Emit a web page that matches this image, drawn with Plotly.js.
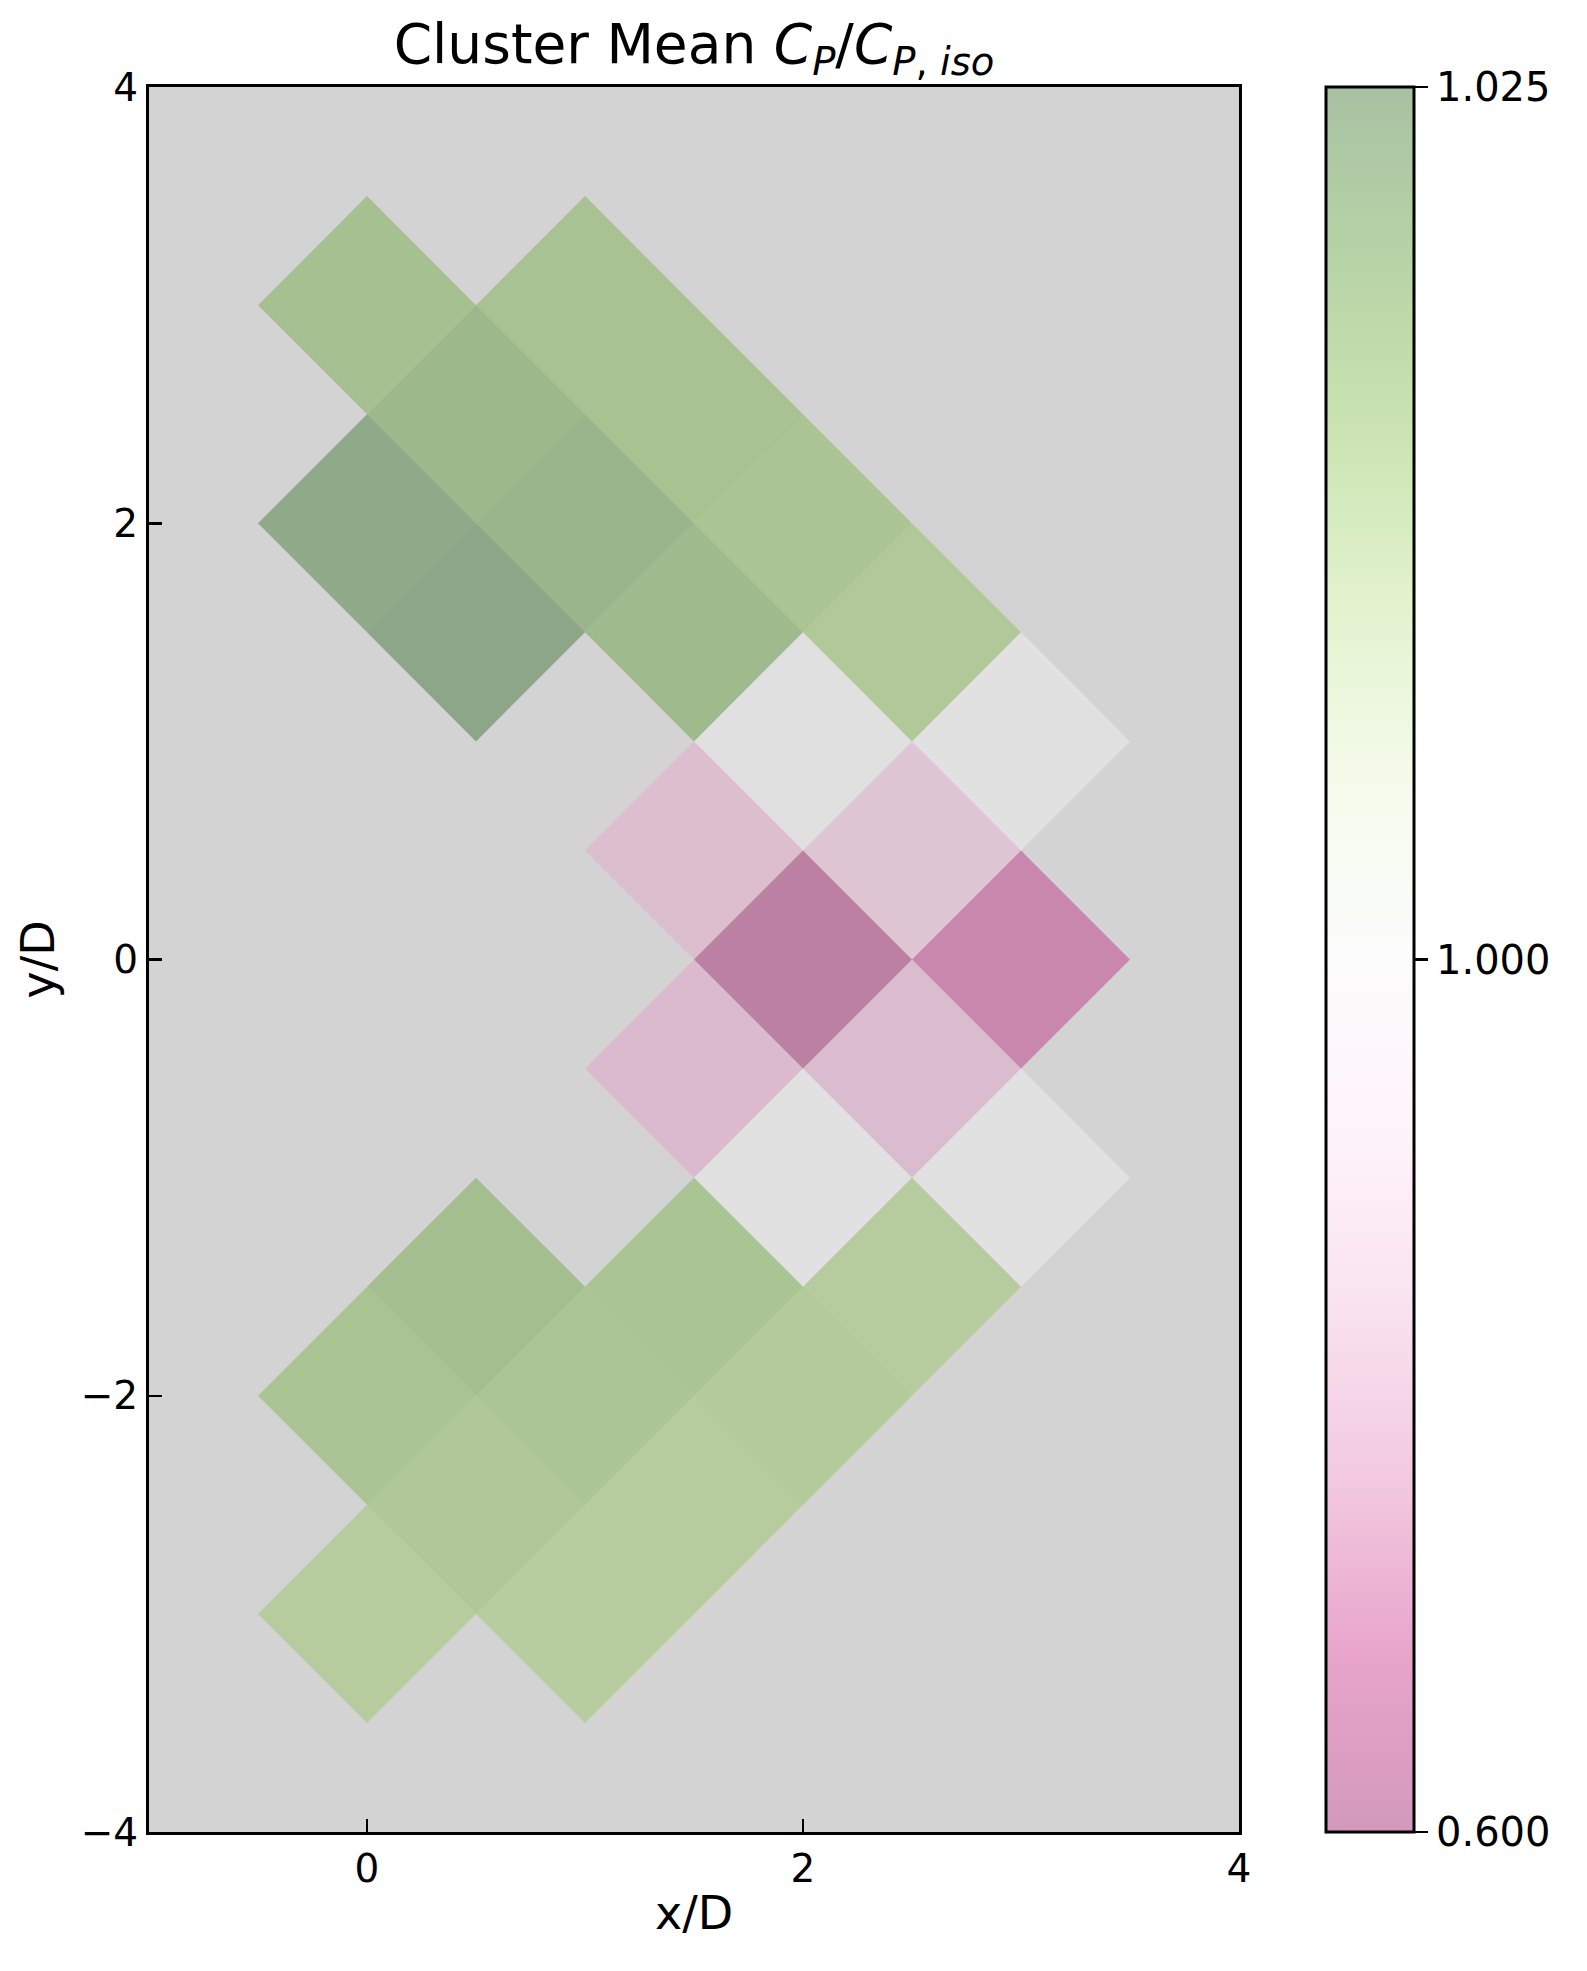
<!DOCTYPE html>
<html>
<head>
<meta charset="utf-8">
<script src="https://cdn.plot.ly/plotly-3.0.1.min.js"></script>
<style>html,body{margin:0;padding:0;background:#fff;}</style>
</head>
<body>
<div id="chart" style="width:1587px;height:1971px;"></div>
<script>
// ---- data (cell centres in x/D, y/D and cluster mean Cp/Cp,iso) ----
const cellX = [0, 1, 0.5, 1.5, 0, 1, 2, 0.5, 1.5, 2.5,
               2, 3, 1.5, 2.5, 2, 3, 1.5, 2.5, 2, 3,
               0.5, 1.5, 2.5, 0, 1, 2, 0.5, 1.5, 0, 1];
const cellY = [3, 3, 2.5, 2.5, 2, 2, 2, 1.5, 1.5, 1.5,
               1, 1, 0.5, 0.5, 0, 0, -0.5, -0.5, -1, -1,
               -1.5, -1.5, -1.5, -2, -2, -2, -2.5, -2.5, -3, -3];
const cellValue = [1.0176, 1.0170, 1.0200, 1.0173, 1.0241, 1.0209, 1.0167, 1.0250, 1.0194, 1.0150,
                   0.9960, 1.0000, 0.8130, 0.8360, 0.6150, 0.6680, 0.8010, 0.8070, 1.0000, 1.0000,
                   1.0182, 1.0167, 1.0139, 1.0164, 1.0162, 1.0146, 1.0152, 1.0139, 1.0139, 1.0136];
const vMin = 0.6, vCenter = 1.0, vMax = 1.025;
const cbTickValues = [0.6, 1.0, 1.025];
const cbTickLabels = ['0.600', '1.000', '1.025'];
const xTicks = [0, 2, 4];
const yTicks = [-4, -2, 0, 2, 4];

// ---- styling constants ----
const HALF = 0.5;       // half diagonal of each diamond cell
const ALPHA = 0.4;
const FONT = 'DejaVu Sans, Arial, sans-serif';

// PiYG colormap (matplotlib / ColorBrewer)
const PiYG = [
  [142,1,82],[197,27,125],[222,119,174],[241,182,218],[253,224,239],[247,247,247],
  [230,245,208],[184,225,134],[127,188,65],[77,146,33],[39,100,25]
];
function cmap(t){
  t = Math.max(0, Math.min(1, t));
  const p = t * (PiYG.length - 1);
  const i = Math.min(Math.floor(p), PiYG.length - 2);
  const f = p - i;
  return PiYG[i].map((c, k) => c + (PiYG[i+1][k] - c) * f);
}
function norm(v){
  return v < vCenter ? 0.5 * (v - vMin) / (vCenter - vMin)
                     : 0.5 + 0.5 * (v - vCenter) / (vMax - vCenter);
}

const traces = [];
for (let i = 0; i < cellX.length; i++){
  const cx = cellX[i], cy = cellY[i];
  const c = cmap(norm(cellValue[i])).map(Math.round);
  traces.push({
    type: 'scatter', mode: 'lines',
    x: [cx - HALF, cx, cx + HALF, cx, cx - HALF],
    y: [cy, cy + HALF, cy, cy - HALF, cy],
    fill: 'toself',
    fillcolor: `rgba(${c[0]},${c[1]},${c[2]},${ALPHA})`,
    line: {width: 0},
    hoverinfo: 'skip', showlegend: false
  });
}

// colorbar colours: PiYG with alpha over white
const cbScale = PiYG.map((c, i) => {
  const b = c.map(v => Math.round(ALPHA * v + (1 - ALPHA) * 255));
  return [i / (PiYG.length - 1), `rgb(${b[0]},${b[1]},${b[2]})`];
});

traces.push({
  type: 'scatter', mode: 'markers',
  x: cellX, y: cellY,
  marker: {
    color: cellValue.map(norm), cmin: 0, cmax: 1,
    colorscale: cbScale, opacity: 0, size: 1,
    showscale: true,
    colorbar: {
      x: 1.0798, xanchor: 'left', xpad: 0, xref: 'paper',
      y: 0.5, yanchor: 'middle', ypad: 0, len: 1, lenmode: 'fraction',
      thickness: 88, thicknessmode: 'pixels',
      outlinewidth: 3, outlinecolor: '#000', borderwidth: 0,
      tickmode: 'array', tickvals: cbTickValues.map(norm), ticktext: cbTickLabels,
      ticks: 'outside', ticklen: 13, tickwidth: 2.5, tickcolor: '#000',
      tickfont: {family: FONT, size: 40, color: '#000'}
    }
  },
  hoverinfo: 'skip', showlegend: false
});

const axisCommon = {
  showgrid: false, zeroline: false,
  showline: true, linecolor: '#000', linewidth: 3, mirror: true,
  ticks: 'inside', ticklen: 13, tickwidth: 2.5, tickcolor: '#000',
  tickfont: {family: FONT, size: 39, color: '#000'},
  automargin: false, fixedrange: true
};

const layout = {
  width: 1587, height: 1971,
  margin: {l: 149, r: 348, t: 87, b: 139, pad: 0},
  paper_bgcolor: '#ffffff', plot_bgcolor: '#d3d3d3',
  font: {family: FONT, color: '#000'},
  title: {
    text: 'Cluster Mean <i>C</i><sub><i>P</i></sub>/<i>C</i><sub><i>P</i>, <i>iso</i></sub>',
    font: {family: FONT, size: 55, color: '#000'},
    x: 0.5, xref: 'paper', xanchor: 'center',
    y: 1 - 44 / 1971, yref: 'container', yanchor: 'middle'
  },
  xaxis: Object.assign({}, axisCommon, {
    range: [-1, 4], tickmode: 'array', tickvals: xTicks,
    title: {text: 'x/D', font: {family: FONT, size: 46, color: '#000'}, standoff: 8}
  }),
  yaxis: Object.assign({}, axisCommon, {
    range: [-4, 4], tickmode: 'array', tickvals: yTicks,
    title: {text: 'y/D', font: {family: FONT, size: 46, color: '#000'}, standoff: 12}
  }),
  showlegend: false
};

Plotly.newPlot('chart', traces, layout, {staticPlot: true, displayModeBar: false});
</script>
</body>
</html>
